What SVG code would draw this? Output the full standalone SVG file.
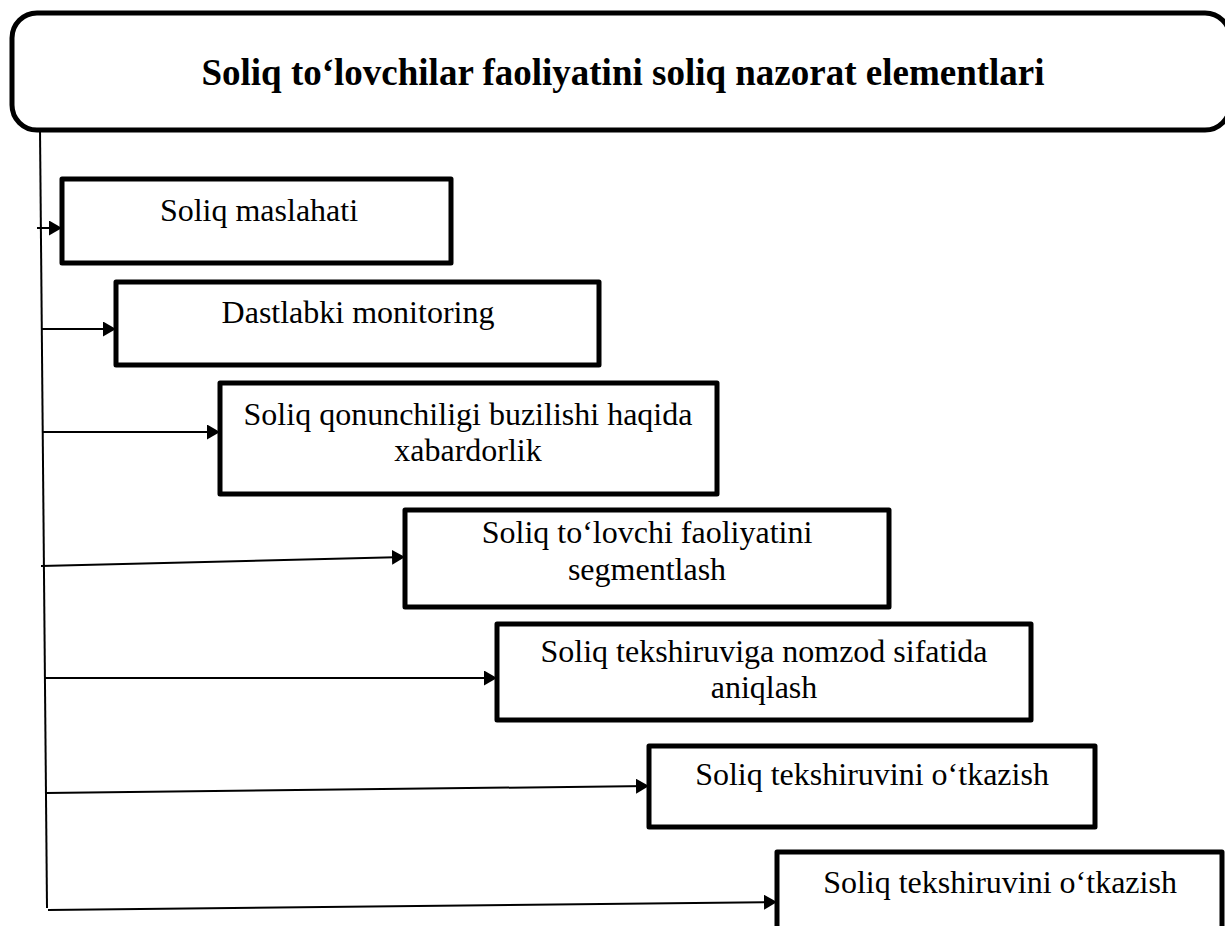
<svg xmlns="http://www.w3.org/2000/svg" width="1225" height="926" viewBox="0 0 1225 926">
<defs>
<marker id="arr" markerUnits="userSpaceOnUse" markerWidth="14" markerHeight="15" refX="13" refY="7.5" orient="auto">
<path d="M0,0 L13,7.5 L0,15 z" fill="#000"/>
</marker>
<style>
.box{fill:#fff;stroke:#000;stroke-width:5;stroke-linejoin:round}
.t{font-family:"Liberation Serif","Times New Roman",serif;font-size:32px;fill:#000;text-anchor:middle}
.title{font-family:"Liberation Serif","Times New Roman",serif;font-size:37px;font-weight:bold;fill:#000;text-anchor:middle}
.c{stroke:#000;stroke-width:2;fill:none}
.ca{stroke:#000;stroke-width:2;fill:none;marker-end:url(#arr)}
</style>
</defs>
<rect width="1225" height="926" fill="#fff"/>
<g id="title">
<rect class="box" x="12" y="13" width="1218" height="117" rx="25" ry="25"/>
<text class="title" x="623" y="85">Soliq to‘lovchilar faoliyatini soliq nazorat elementlari</text>
</g>
<g id="connectors">
<line class="c" x1="40" y1="130" x2="47" y2="908"/>
<line class="ca" x1="37" y1="228" x2="62" y2="228"/>
<line class="ca" x1="41" y1="329" x2="116" y2="329"/>
<line class="ca" x1="42" y1="432" x2="220" y2="432"/>
<line class="ca" x1="41" y1="566" x2="405" y2="557"/>
<line class="ca" x1="44" y1="678" x2="497" y2="678"/>
<line class="ca" x1="46" y1="793" x2="649" y2="786"/>
<line class="ca" x1="48" y1="910" x2="777" y2="902"/>
</g>
<g id="n1">
<rect class="box" x="62" y="179" width="389" height="84"/>
<text class="t" x="259" y="221">Soliq maslahati</text>
</g>
<g id="n2">
<rect class="box" x="116" y="282" width="483" height="83"/>
<text class="t" x="358" y="323">Dastlabki monitoring</text>
</g>
<g id="n3">
<rect class="box" x="220" y="383" width="497" height="111"/>
<text class="t" x="468" y="425">Soliq qonunchiligi buzilishi haqida</text>
<text class="t" x="468" y="461">xabardorlik</text>
</g>
<g id="n4">
<rect class="box" x="405" y="510" width="484" height="97"/>
<text class="t" x="647" y="543">Soliq to‘lovchi faoliyatini</text>
<text class="t" x="647" y="580">segmentlash</text>
</g>
<g id="n5">
<rect class="box" x="497" y="624" width="534" height="96"/>
<text class="t" x="764" y="662">Soliq tekshiruviga nomzod sifatida</text>
<text class="t" x="764" y="698">aniqlash</text>
</g>
<g id="n6">
<rect class="box" x="649" y="746" width="446" height="81"/>
<text class="t" x="872" y="785">Soliq tekshiruvini o‘tkazish</text>
</g>
<g id="n7">
<rect class="box" x="777" y="852" width="445" height="100"/>
<text class="t" x="1000" y="893">Soliq tekshiruvini o‘tkazish</text>
</g>
</svg>
